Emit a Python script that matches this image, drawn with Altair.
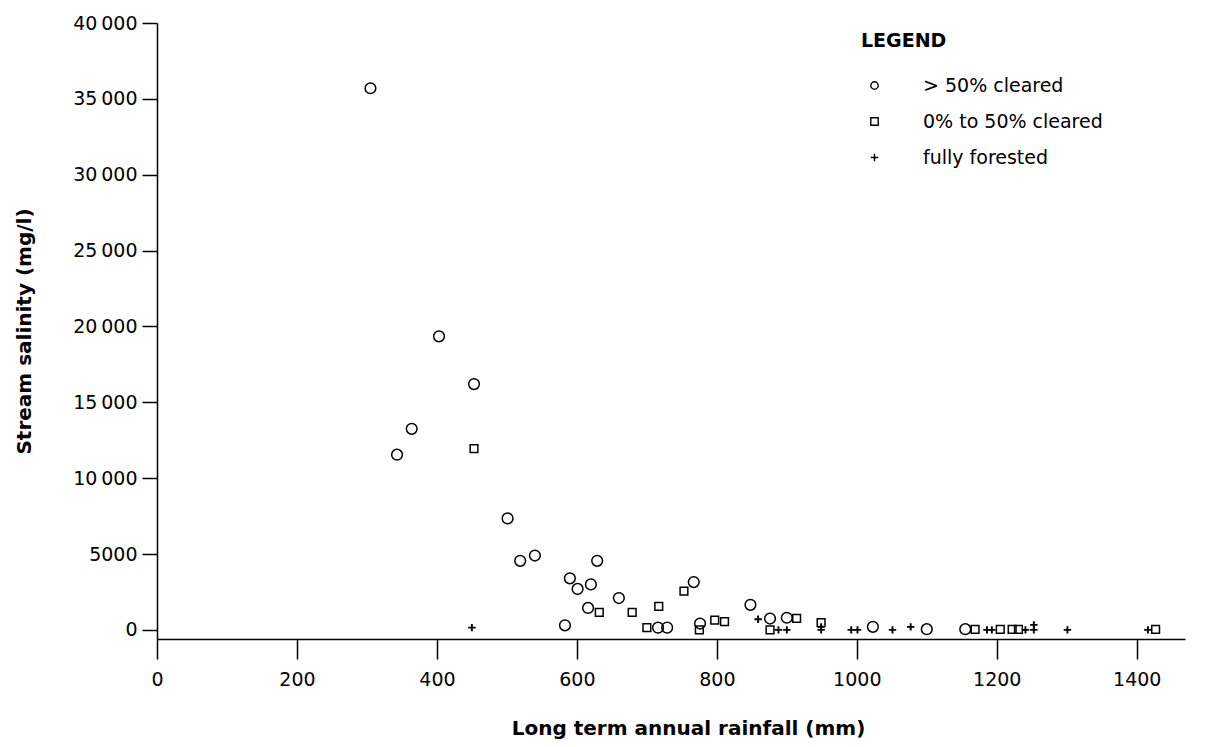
import altair as alt
import pandas as pd

# > 50% cleared (circles)
cleared_rain = [305, 403, 453, 364, 343, 501, 519, 540, 629, 590, 620, 601, 660, 616,
                583, 716, 729, 776, 767, 848, 876, 900, 1023, 1100, 1155]
cleared_sal = [35700, 19350, 16200, 13250, 11550, 7350, 4550, 4900, 4550, 3400, 3000, 2700, 2100, 1450,
               300, 150, 150, 420, 3150, 1650, 750, 800, 200, 50, 50]

# 0% to 50% cleared (squares)
partial_rain = [453, 632, 679, 717, 700, 753, 775, 797, 811, 876, 914, 949,
                1169, 1205, 1222, 1231, 1427]
partial_sal = [11950, 1150, 1150, 1550, 150, 2550, 0, 650, 550, 0, 760, 480,
               30, 30, 30, 30, 30]

# fully forested (plus)
forest_rain = [450, 859, 888, 900, 949, 949, 992, 1001, 1051, 1077, 1186, 1193,
               1241, 1253, 1253, 1301, 1416]
forest_sal = [150, 700, 0, 0, 200, 0, 0, 0, 0, 200, 0, 0,
              0, 330, 0, 0, 0]

groups = ["> 50% cleared", "0% to 50% cleared", "fully forested"]
x_ticks = [0, 200, 400, 600, 800, 1000, 1200, 1400]
y_ticks = [0, 5000, 10000, 15000, 20000, 25000, 30000, 35000, 40000]

df = pd.concat([
    pd.DataFrame({"rain": cleared_rain, "sal": cleared_sal, "group": groups[0]}),
    pd.DataFrame({"rain": partial_rain, "sal": partial_sal, "group": groups[1]}),
    pd.DataFrame({"rain": forest_rain, "sal": forest_sal, "group": groups[2]}),
], ignore_index=True)

PLUS = "M-1,0H1M0,-1V1"
FONT = "DejaVu Sans"

label_expr = ("datum.value >= 10000 ? replace(format(datum.value, ','), ',', '\u2009') "
              ": format(datum.value, 'd')")

x_enc = alt.X("rain:Q",
              scale=alt.Scale(domain=[0, 1469], nice=False, zero=False),
              axis=alt.Axis(values=x_ticks, title="Long term annual rainfall (mm)",
                            format="d", labelFlush=False,
                            tickSize=20, labelPadding=11, titlePadding=29,
                            titleX=531, titleAnchor="middle"))
y_enc = alt.Y("sal:Q",
              scale=alt.Scale(domain=[-600, 40000], nice=False, zero=False),
              axis=alt.Axis(values=y_ticks, title="Stream salinity (mg/l)",
                            labelExpr=label_expr, labelFlush=False,
                            tickSize=15, labelPadding=5, titlePadding=38))
shape_enc = alt.Shape("group:N",
                      scale=alt.Scale(domain=groups, range=["circle", "square", PLUS]),
                      legend=alt.Legend(title="LEGEND", orient="none", legendX=704, legendY=9,
                                        titleFont=FONT, titleFontSize=19, titleFontWeight="bold",
                                        titleColor="black", titlePadding=25,
                                        labelFont=FONT, labelFontSize=19, labelColor="black",
                                        labelLimit=400,
                                        labelOffset=39, rowPadding=16, symbolSize=55,
                                        symbolOffset=4, symbolStrokeWidth=1.4,
                                        symbolStrokeColor="black", symbolFillColor="white",
                                        padding=0))

sizes = [115, 60, 55]
widths = [1.5, 1.5, 1.9]

layers = []
for g, s, w in zip(groups, sizes, widths):
    layers.append(
        alt.Chart(df).transform_filter(alt.datum.group == g)
        .mark_point(filled=False, color="black", opacity=1, size=s, strokeWidth=w)
        .encode(x=x_enc, y=y_enc, shape=shape_enc)
    )

chart = alt.layer(*layers).properties(
    width=1028, height=616,
    autosize=alt.AutoSizeParams(type="none"),
    padding={"left": 157, "top": 23, "right": 20, "bottom": 108},
    background="white",
).configure_view(
    stroke=None
).configure_axis(
    grid=False,
    domainColor="black", domainWidth=1.5,
    tickColor="black", tickWidth=1.5,
    labelFont=FONT, labelFontSize=19, labelColor="black",
    titleFont=FONT, titleFontSize=20, titleFontWeight="bold", titleColor="black",
)

chart.save("out.html", embed_options={"renderer": "svg", "actions": False})
